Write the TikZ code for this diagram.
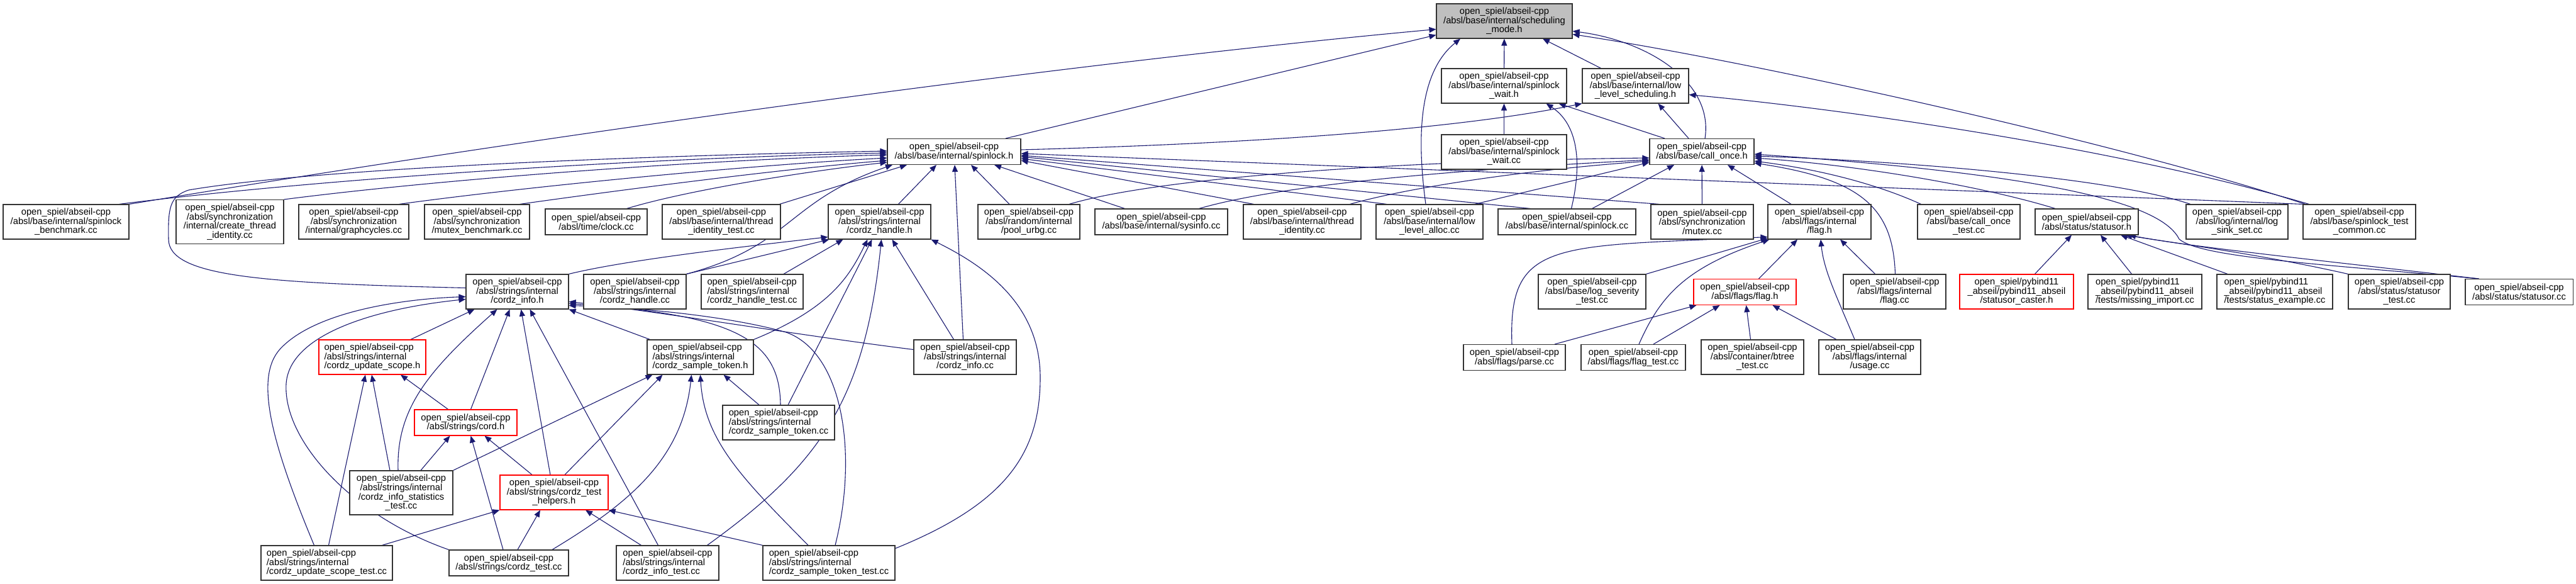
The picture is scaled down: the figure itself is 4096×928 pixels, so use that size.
\documentclass[tikz,border=0pt]{standalone}
\usepackage{fontspec}
\setmainfont{Liberation Sans}
\usetikzlibrary{arrows.meta}
\pgfdeclarelayer{bg}
\pgfsetlayers{bg,main}
\definecolor{edgec}{RGB}{25,25,112}
\definecolor{rootc}{RGB}{191,191,191}
\newcommand\nfont{\fontsize{14.7}{14.6}\selectfont}
\begin{document}
\begin{tikzpicture}[x=1pt,y=-1pt,
  nd/.style={draw=black!80, line width=1.1pt, fill=white, inner sep=2pt, align=center, font=\nfont},
  ndl/.style={nd, align=left},
  rd/.style={draw=red},
  h2/.style={minimum height=41pt},
  h3/.style={minimum height=55pt},
  h4/.style={minimum height=70pt},
  e/.style={draw=edgec, line width=1.1pt, -{Triangle[length=11pt,width=9pt]}}]
\useasboundingbox (0,0) rectangle (4096,928);
% ---------- nodes ----------
\node[nd,h3,minimum width=216pt,fill=rootc] (sched) at (2392,33.5) {open\_spiel/abseil-cpp\\/absl/base/internal/scheduling\\\_mode.h};
\node[nd,h3,minimum width=199pt] (swh) at (2391.5,136.5) {open\_spiel/abseil-cpp\\/absl/base/internal/spinlock\\\_wait.h};
\node[nd,h3,minimum width=169pt] (lls) at (2600.5,136.5) {open\_spiel/abseil-cpp\\/absl/base/internal/low\\\_level\_scheduling.h};
\node[nd,h3,minimum width=199pt] (swcc) at (2391.5,241.5) {open\_spiel/abseil-cpp\\/absl/base/internal/spinlock\\\_wait.cc};
\node[nd,h2,minimum width=166pt] (coh) at (2706,241) {open\_spiel/abseil-cpp\\/absl/base/call\_once.h};
\node[nd,h2,minimum width=212pt] (slh) at (1517,241) {open\_spiel/abseil-cpp\\/absl/base/internal/spinlock.h};
% row 3
\node[nd,h3,minimum width=200pt] (sbm) at (105,352.5) {open\_spiel/abseil-cpp\\/absl/base/internal/spinlock\\\_benchmark.cc};
\node[nd,h4,minimum width=171pt] (cti) at (365.5,352.5) {open\_spiel/abseil-cpp\\/absl/synchronization\\/internal/create\_thread\\\_identity.cc};
\node[nd,h3,minimum width=175pt] (gc) at (562.5,352.5) {open\_spiel/abseil-cpp\\/absl/synchronization\\/internal/graphcycles.cc};
\node[nd,h3,minimum width=167pt] (mbm) at (758.5,352.5) {open\_spiel/abseil-cpp\\/absl/synchronization\\/mutex\_benchmark.cc};
\node[nd,h2,minimum width=162pt] (clk) at (948,352.5) {open\_spiel/abseil-cpp\\/absl/time/clock.cc};
\node[nd,h3,minimum width=188pt] (tit) at (1147,352.5) {open\_spiel/abseil-cpp\\/absl/base/internal/thread\\\_identity\_test.cc};
\node[nd,h3,minimum width=163pt] (chh) at (1398.5,352.5) {open\_spiel/abseil-cpp\\/absl/strings/internal\\/cordz\_handle.h};
\node[nd,h3,minimum width=162pt] (pu) at (1636,352.5) {open\_spiel/abseil-cpp\\/absl/random/internal\\/pool\_urbg.cc};
\node[nd,h2,minimum width=211pt] (si) at (1846.5,352.5) {open\_spiel/abseil-cpp\\/absl/base/internal/sysinfo.cc};
\node[nd,h3,minimum width=187pt] (ticc) at (2070.5,352.5) {open\_spiel/abseil-cpp\\/absl/base/internal/thread\\\_identity.cc};
\node[nd,h3,minimum width=170pt] (lla) at (2273,352.5) {open\_spiel/abseil-cpp\\/absl/base/internal/low\\\_level\_alloc.cc};
\node[nd,h2,minimum width=219pt] (slcc) at (2491.5,352.5) {open\_spiel/abseil-cpp\\/absl/base/internal/spinlock.cc};
\node[nd,h3,minimum width=163pt] (mx) at (2706.5,352.5) {open\_spiel/abseil-cpp\\/absl/synchronization\\/mutex.cc};
\node[nd,h3,minimum width=164pt] (fih) at (2893,352.5) {open\_spiel/abseil-cpp\\/absl/flags/internal\\/flag.h};
\node[nd,h3,minimum width=163pt] (cot) at (3130.5,352.5) {open\_spiel/abseil-cpp\\/absl/base/call\_once\\\_test.cc};
\node[nd,h2,minimum width=164pt] (soh) at (3318,352.5) {open\_spiel/abseil-cpp\\/absl/status/statusor.h};
\node[nd,h3,minimum width=162pt] (lss) at (3557,352.5) {open\_spiel/abseil-cpp\\/absl/log/internal/log\\\_sink\_set.cc};
\node[nd,h3,minimum width=179pt] (stc) at (3751.5,352.5) {open\_spiel/abseil-cpp\\/absl/base/spinlock\_test\\\_common.cc};
% row 4
\node[nd,h3,minimum width=163pt] (cih) at (822.5,463.5) {open\_spiel/abseil-cpp\\/absl/strings/internal\\/cordz\_info.h};
\node[nd,h3,minimum width=163pt] (chcc) at (1009.5,463.5) {open\_spiel/abseil-cpp\\/absl/strings/internal\\/cordz\_handle.cc};
\node[ndl,h3,minimum width=162pt] (cht) at (1196,463.5) {open\_spiel/abseil-cpp\\/absl/strings/internal\\/cordz\_handle\_test.cc};
\node[nd,h3,minimum width=171pt] (lst) at (2531.5,463.5) {open\_spiel/abseil-cpp\\/absl/base/log\_severity\\\_test.cc};
\node[nd,h2,rd,minimum width=163pt] (ffh) at (2774.5,464) {open\_spiel/abseil-cpp\\/absl/flags/flag.h};
\node[nd,h3,minimum width=163pt] (fcc) at (3012.5,463.5) {open\_spiel/abseil-cpp\\/absl/flags/internal\\/flag.cc};
\node[nd,h3,rd,minimum width=181pt] (sca) at (3206.5,463.5) {open\_spiel/pybind11\\\_abseil/pybind11\_abseil\\/statusor\_caster.h};
\node[ndl,h3,minimum width=181pt] (mi) at (3410.5,463.5) {open\_spiel/pybind11\\\_abseil/pybind11\_abseil\\/tests/missing\_import.cc};
\node[ndl,h3,minimum width=184pt] (se) at (3617,463.5) {open\_spiel/pybind11\\\_abseil/pybind11\_abseil\\/tests/status\_example.cc};
\node[nd,h3,minimum width=162pt] (sot) at (3815,463.5) {open\_spiel/abseil-cpp\\/absl/status/statusor\\\_test.cc};
\node[nd,h2,minimum width=171pt] (socc) at (4005.5,464) {open\_spiel/abseil-cpp\\/absl/status/statusor.cc};
% row 5
\node[ndl,h3,rd,minimum width=170pt] (cush) at (592,567.5) {open\_spiel/abseil-cpp\\/absl/strings/internal\\/cordz\_update\_scope.h};
\node[ndl,h3,minimum width=169pt] (csth) at (1113.5,567.5) {open\_spiel/abseil-cpp\\/absl/strings/internal\\/cordz\_sample\_token.h};
\node[nd,h3,minimum width=163pt] (cicc) at (1534.5,567.5) {open\_spiel/abseil-cpp\\/absl/strings/internal\\/cordz\_info.cc};
\node[nd,h2,minimum width=162pt] (prs) at (2408,568) {open\_spiel/abseil-cpp\\/absl/flags/parse.cc};
\node[nd,h2,minimum width=166pt] (ft) at (2597,568) {open\_spiel/abseil-cpp\\/absl/flags/flag\_test.cc};
\node[nd,h3,minimum width=163pt] (bt) at (2786.5,567.5) {open\_spiel/abseil-cpp\\/absl/container/btree\\\_test.cc};
\node[nd,h3,minimum width=162pt] (usg) at (2973,567.5) {open\_spiel/abseil-cpp\\/absl/flags/internal\\/usage.cc};
% rows 6-8
\node[nd,h2,rd,minimum width=163pt] (cord) at (740.5,671.5) {open\_spiel/abseil-cpp\\/absl/strings/cord.h};
\node[ndl,h3,minimum width=178pt] (cscc) at (1238,671.5) {open\_spiel/abseil-cpp\\/absl/strings/internal\\/cordz\_sample\_token.cc};
\node[nd,h4,minimum width=164pt] (cist) at (638,783) {open\_spiel/abseil-cpp\\/absl/strings/internal\\/cordz\_info\_statistics\\\_test.cc};
\node[nd,h3,rd,minimum width=172pt] (cth) at (881,782.5) {open\_spiel/abseil-cpp\\/absl/strings/cordz\_test\\\_helpers.h};
\node[ndl,h3,minimum width=209pt] (cust) at (519.5,894.5) {open\_spiel/abseil-cpp\\/absl/strings/internal\\/cordz\_update\_scope\_test.cc};
\node[nd,h2,minimum width=190pt] (ctc) at (809,894.5) {open\_spiel/abseil-cpp\\/absl/strings/cordz\_test.cc};
\node[ndl,h3,minimum width=163pt] (cit) at (1061.5,894.5) {open\_spiel/abseil-cpp\\/absl/strings/internal\\/cordz\_info\_test.cc};
\node[ndl,h3,minimum width=210pt] (cstt) at (1318,894.5) {open\_spiel/abseil-cpp\\/absl/strings/internal\\/cordz\_sample\_token\_test.cc};
% ---------- edges ----------
\begin{pgfonlayer}{bg}
\fill[white] (0,0) rectangle (4096,928);
% to scheduling_mode.h
\draw[e] ([xshift=82pt]slh.north) -- ([yshift=6pt]sched.south west);
\draw[e] (swh) -- (sched);
\draw[e] ([xshift=-55pt]lls.north) -- ([xshift=61pt]sched.south);
\draw[e] ([xshift=5pt]coh.north) .. controls (2725,130) and (2620,65) .. ([yshift=-16pt]sched.east);
\draw[e] (sbm.north east) .. controls (900,210) and (1700,100) .. ([yshift=-13pt]sched.west);
\draw[e] ([xshift=-6pt]lla.north) .. controls (2250,200) and (2262,110) .. ([xshift=-70pt]sched.south);
\draw[e] ([xshift=-86pt]stc.north) .. controls (3380,230) and (2800,100) .. ([yshift=-21pt]sched.east);
% to spinlock_wait.h
\draw[e] (swcc) -- (swh);
\draw[e] ([xshift=-59pt]coh.north) -- ([xshift=87pt]swh.south);
\draw[e] ([xshift=7pt]slcc.north) .. controls (2518,250) and (2505,195) .. ([xshift=67pt]swh.south);
% to low_level_scheduling.h
\draw[e] ([yshift=3pt]slh.east) .. controls (2000,228) and (2320,205) .. (lls.south west);
\draw[e] ([xshift=-21pt]coh.north) -- ([xshift=36pt]lls.south);
\draw[e] ([xshift=-80pt]stc.north) .. controls (3350,230) and (2900,170) .. ([yshift=-14pt]lls.east);
% to spinlock.h
\draw[e] ([xshift=-16pt]sbm.north east) .. controls (500,285) and (1000,252) .. ([yshift=-2pt]slh.west);
\draw[e] (cti.north east) .. controls (700,285) and (1100,255) .. ([yshift=-5pt]slh.west);
\draw[e] ([xshift=-16pt]gc.north east) .. controls (850,295) and (1200,262) .. ([yshift=-10pt]slh.west);
\draw[e] ([xshift=-16pt]mbm.north east) .. controls (1000,300) and (1250,268) .. ([yshift=-14pt]slh.west);
\draw[e] ([xshift=-33pt]clk.north east) .. controls (1100,300) and (1300,270) .. ([yshift=-17pt]slh.west);
\draw[e] ([yshift=6pt]cih.west) .. controls (420,450) and (268,440) .. (268,380) .. controls (267,330) and (270,312) .. (300,302) .. controls (500,268) and (1000,248) .. ([yshift=1pt]slh.west);
\draw[e] ([xshift=-2pt]tit.north east) -- ([xshift=-75pt]slh.south);
\draw[e] (chcc.north east) .. controls (1260,390) and (1250,320) .. ([xshift=-98pt]slh.south);
\draw[e] ([xshift=30pt]chh.north) -- ([xshift=-28pt]slh.south);
\draw[e] ([xshift=-3pt]cicc.north) -- ([xshift=1pt]slh.south);
\draw[e] ([xshift=-31pt]pu.north) -- ([xshift=27pt]slh.south);
\draw[e] ([xshift=-58pt]si.north) -- ([xshift=64pt]slh.south);
\draw[e] ([xshift=-77pt]ticc.north) -- ([yshift=-14pt]slh.east);
\draw[e] ([xshift=-68pt]lla.north) -- ([yshift=-11pt]slh.east);
\draw[e] ([xshift=-58pt]slcc.north) -- ([yshift=-8pt]slh.east);
\draw[e] ([xshift=-68pt]mx.north) -- ([yshift=-6pt]slh.east);
\draw[e] ([xshift=-90pt]stc.north) -- ([yshift=-3pt]slh.east);
% to call_once.h
\draw[e] ([xshift=64pt]pu.north) .. controls (1850,280) and (2250,255) .. ([yshift=-10pt]coh.west);
\draw[e] ([xshift=60pt]si.north) .. controls (2050,290) and (2350,268) .. ([yshift=-13pt]coh.west);
\draw[e] ([xshift=76pt]ticc.north) .. controls (2250,295) and (2450,268) .. ([yshift=-15pt]coh.west);
\draw[e] ([xshift=72pt]lla.north) -- ([yshift=-17pt]coh.west);
\draw[e] ([xshift=40pt]slcc.north) -- ([xshift=-44pt]coh.south);
\draw[e] (mx) -- (coh);
\draw[e] ([xshift=-45pt]fih.north) -- ([xshift=41pt]coh.south);
\draw[e] ([xshift=-76pt]cot.north) .. controls (2990,295) and (2900,270) .. ([yshift=-15pt]coh.east);
\draw[e] ([xshift=-50pt]soh.north) .. controls (3150,295) and (2950,262) .. ([yshift=-10pt]coh.east);
\draw[e] ([xshift=-74pt]lss.north) .. controls (3350,280) and (3000,255) .. ([yshift=-7pt]coh.east);
\draw[e] ([xshift=-64pt]socc.north) .. controls (3700,420) and (3500,410) .. (3465,380) .. controls (3440,330) and (3300,280) .. ([yshift=-4pt]coh.east);
\draw[e] ([xshift=1pt]fcc.north) .. controls (3010,330) and (2960,285) .. ([yshift=-18pt]coh.east);
% flags
\draw[e] ([xshift=-4pt]prs.north) .. controls (2398,380) and (2470,392) .. ([yshift=4pt]fih.south west);
\draw[e] (lst.north east) -- ([yshift=2pt]fih.south west);
\draw[e] ([xshift=9pt]ft.north) .. controls (2640,470) and (2680,425) .. ([xshift=3pt]fih.south west);
\draw[e] ([xshift=22pt]ffh.north) -- ([xshift=-35pt]fih.south);
\draw[e] ([xshift=-24pt]usg.north) .. controls (2920,470) and (2900,430) .. ([xshift=2pt]fih.south);
\draw[e] ([xshift=-31pt]fcc.north) -- ([xshift=33pt]fih.south);
\draw[e] ([xshift=64pt]prs.north) -- ([xshift=-77pt]ffh.south);
\draw[e] ([xshift=32pt]ft.north) -- ([xshift=-40pt]ffh.south);
\draw[e] ([xshift=-3pt]bt.north) -- ([xshift=2pt]ffh.south);
\draw[e] ([xshift=-53pt]usg.north) -- ([xshift=44pt]ffh.south);
% statusor
\draw[e] ([xshift=29pt]sca.north) -- ([xshift=-24pt]soh.south);
\draw[e] ([xshift=-21pt]mi.north) -- ([xshift=22pt]soh.south);
\draw[e] ([xshift=-75pt]se.north) -- ([xshift=54pt]soh.south);
\draw[e] (sot.north west) .. controls (3600,405) and (3450,385) .. ([xshift=61pt]soh.south);
\draw[e] ([xshift=-64pt]socc.north) .. controls (3700,415) and (3480,392) .. ([xshift=67pt]soh.south);
% cordz_handle.h
\draw[e] (cih.north east) .. controls (1000,412) and (1200,390) .. ([yshift=4pt]chh.south west);
\draw[e] (chcc.north east) -- ([xshift=2pt]chh.south west);
\draw[e] ([xshift=50pt]cht.north) -- ([xshift=-58pt]chh.south);
\draw[e] (csth.north east) .. controls (1320,490) and (1350,440) .. ([xshift=-19pt]chh.south);
\draw[e] ([xshift=15pt]cscc.north) -- ([xshift=-12pt]chh.south);
\draw[e] ([xshift=63pt]cit.north) .. controls (1300,740) and (1375,640) .. ([xshift=3pt]chh.south);
\draw[e] ([xshift=-18pt]cicc.north) -- ([xshift=20pt]chh.south);
\draw[e] ([yshift=23pt]cstt.east) .. controls (1600,800) and (1654,720) .. (1654,600) .. controls (1654,480) and (1560,420) .. (chh.south east);
% cordz_info.h
\draw[e] ([xshift=-20pt]cust.north) .. controls (430,700) and (405,600) .. (445,555) .. controls (500,495) and (640,475) .. ([yshift=-8pt]cih.west);
\draw[e] (ctc.north west) .. controls (560,820) and (450,700) .. (455,610) .. controls (460,530) and (600,490) .. ([yshift=-12pt]cih.west);
\draw[e] ([xshift=61pt]cush.north) -- ([xshift=-68pt]cih.south);
\draw[e] ([xshift=-5pt]cist.north) .. controls (630,650) and (680,590) .. ([xshift=-32pt]cih.south);
\draw[e] ([xshift=8pt]cord.north) -- ([xshift=-12pt]cih.south);
\draw[e] ([xshift=-6pt]cth.north) -- ([xshift=6pt]cih.south);
\draw[e] ([xshift=-15pt]cit.north) -- ([xshift=20pt]cih.south);
\draw[e] ([xshift=-80pt]csth.north) -- (cih.south east);
\draw[e] ([yshift=12pt]cicc.west) .. controls (1250,530) and (1050,495) .. ([yshift=-16pt]cih.east);
\draw[e] ([xshift=3pt]cscc.north) .. controls (1240,540) and (1170,500) .. ([yshift=-19pt]cih.east);
\draw[e] ([xshift=10pt]cstt.north) .. controls (1365,720) and (1340,560) .. (1250,528) .. controls (1150,500) and (1000,488) .. ([yshift=-22pt]cih.east);
% cordz_update_scope.h
\draw[e] ([xshift=3pt]cust.north) -- ([xshift=-11pt]cush.south);
\draw[e] ([xshift=-18pt]cist.north) -- ([xshift=-1pt]cush.south);
\draw[e] ([xshift=-28pt]cord.north) -- ([xshift=45pt]cush.south);
% cord.h
\draw[e] ([xshift=31pt]cist.north) -- ([xshift=-25pt]cord.south);
\draw[e] ([xshift=-9pt]ctc.north) -- ([xshift=8pt]cord.south);
\draw[e] ([xshift=-35pt]cth.north) -- ([xshift=30pt]cord.south);
% cordz_test_helpers.h
\draw[e] ([xshift=88pt]cust.north) -- (cth.south west);
\draw[e] ([xshift=14pt]ctc.north) -- ([xshift=-22pt]cth.south);
\draw[e] ([xshift=-42pt]cit.north) -- ([xshift=50pt]cth.south);
\draw[e] (cstt.north west) -- (cth.south east);
% cordz_sample_token.h
\draw[e] (cist.north east) -- ([xshift=-76pt]csth.south);
\draw[e] ([xshift=17pt]cth.north) -- ([xshift=-60pt]csth.south);
\draw[e] ([xshift=69pt]ctc.north) .. controls (1000,800) and (1085,730) .. ([xshift=-14pt]csth.south);
\draw[e] ([xshift=-33pt]cstt.north) .. controls (1180,760) and (1120,700) .. (csth.south);
\draw[e] ([xshift=-31pt]cscc.north) -- ([xshift=37pt]csth.south);
\end{pgfonlayer}
\end{tikzpicture}
\end{document}
